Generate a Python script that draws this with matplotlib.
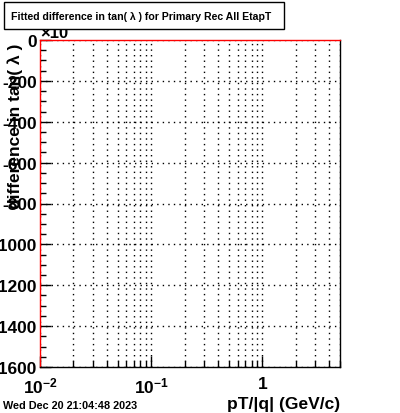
import matplotlib
matplotlib.use("Agg")
import matplotlib.pyplot as plt
from matplotlib.ticker import FixedLocator, MultipleLocator, LogLocator, NullFormatter, FuncFormatter
from matplotlib.patches import Rectangle

plt.rcParams['font.family'] = ['Liberation Sans', 'DejaVu Sans']
plt.rcParams['font.weight'] = 'bold'
plt.rcParams['mathtext.fontset'] = 'custom'
plt.rcParams['mathtext.bf'] = 'Liberation Sans:bold'
plt.rcParams['mathtext.rm'] = 'Liberation Sans:bold'

title = "Fitted difference in tan( \u03bb ) for Primary Rec All EtapT"
ylabel = "difference in tan( \u03bb )"
xlabel = "pT/|q| (GeV/c)"
datestamp = "Wed Dec 20 21:04:48 2023"
x_range = [0.01, 5.0]
y_range = [-1600, 0]
y_major_ticks = [0, -200, -400, -600, -800, -1000, -1200, -1400, -1600]
x_major_ticks = [0.01, 0.1, 1.0]
x_tick_labels = [r"$\mathbf{10^{-2}}$", r"$\mathbf{10^{-1}}$", r"$\mathbf{1}$"]

W, H = 400, 414
fig = plt.figure(figsize=(W / 100, H / 100), dpi=100)
ax = fig.add_axes([40 / W, 1 - 368 / H, 300 / W, (368 - 41) / H])

ax.set_xscale('log')
ax.set_xlim(*x_range)
ax.set_ylim(*y_range)

ax.yaxis.set_major_locator(FixedLocator(y_major_ticks))
ax.yaxis.set_minor_locator(MultipleLocator(50))
ax.yaxis.set_major_formatter(FuncFormatter(lambda v, p: "%d" % v if v != 0 else "0"))

ax.xaxis.set_major_locator(FixedLocator(x_major_ticks))
ax.set_xticklabels(x_tick_labels)
ax.xaxis.set_minor_locator(LogLocator(base=10, subs=range(2, 10)))
ax.xaxis.set_minor_formatter(NullFormatter())

ax.tick_params(axis='both', which='major', direction='in', length=8, width=1, labelsize=12.5)
ax.tick_params(axis='both', which='minor', direction='in', length=4, width=1)
ax.tick_params(axis='x', which='major', pad=6)
ax.tick_params(axis='y', which='major', pad=2)
for lab in ax.get_yticklabels() + ax.get_xticklabels():
    lab.set_fontweight('bold')

ax.grid(True, which='major', axis='y', linestyle=(0, (1, 3)), color='black', linewidth=1)
ax.grid(True, which='both', axis='x', linestyle=(0, (1, 3)), color='black', linewidth=1)

ax.spines['left'].set_color('red')
ax.spines['top'].set_color('red')
ax.spines['right'].set_color('black')
ax.spines['bottom'].set_color('black')
for s in ax.spines.values():
    s.set_linewidth(1)

# x label
fig.text(340 / W, 1 - 405 / H, xlabel, ha='right', va='center', fontsize=12.5, fontweight='bold')
# y label
fig.text(15 / W, 1 - 126 / H, ylabel, ha='center', va='center', rotation=90, fontsize=12.5, fontweight='bold')
# date
fig.text(3 / W, 1 - 406 / H, datestamp, ha='left', va='center', fontsize=7.8, fontweight='bold')
# x10 multiplier
fig.text(40 / W, 1 - 34 / H, "\u00d710", ha='left', va='center', fontsize=12, fontweight='bold')

# title box
box = Rectangle((4 / W, 1 - 30 / H), 280 / W, 27 / H, transform=fig.transFigure,
                facecolor='white', edgecolor='black', linewidth=1, zorder=5)
fig.patches.append(box)
fig.text(11 / W, 1 - 16.5 / H, title, ha='left', va='center', fontsize=7.6, fontweight='bold', zorder=6)

fig.savefig("out.png", dpi=100)
